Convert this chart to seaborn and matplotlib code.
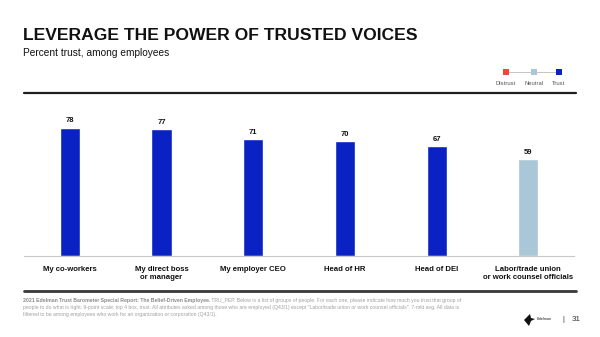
import matplotlib
matplotlib.use("Agg")
import matplotlib.pyplot as plt
from matplotlib.lines import Line2D
from matplotlib.patches import Rectangle, Polygon
import seaborn as sns
import pandas as pd

categories = ["My co-workers", "My direct boss\nor manager", "My employer CEO",
              "Head of HR", "Head of DEI", "Labor/trade union\nor work counsel officials"]
values = [78, 77, 71, 70, 67, 59]
trust_level = ["Trust", "Trust", "Trust", "Trust", "Trust", "Neutral"]
legend_labels = ["Distrust", "Neutral", "Trust"]
level_colors = {"Distrust": "#F0463A", "Neutral": "#A9C7D6", "Trust": "#0A22C4"}

title = "LEVERAGE THE POWER OF TRUSTED VOICES"
subtitle = "Percent trust, among employees"
foot_bold = "2021 Edelman Trust Barometer Special Report: The Belief-Driven Employee."
foot_line1 = (" TRU_PEP. Below is a list of groups of people. For each one, please indicate "
              "how much you trust that group of")
foot_rest = ("people to do what is right. 9-point scale; top 4 box, trust. All attributes asked among those who "
             "are employed (Q43/1) except \"Labor/trade union or work counsel officials\". 7-mkt avg. All data is\n"
             "filtered to be among employees who work for an organization or corporation (Q43/1).")

sns.set_theme(style="white")
plt.rcParams["font.family"] = ["Liberation Sans", "DejaVu Sans"]

df = pd.DataFrame({"category": categories, "value": values, "level": trust_level})
bar_colors = [level_colors[l] for l in trust_level]

fig = plt.figure(figsize=(6, 3.37), dpi=100)
ax = fig.add_axes([0.04, 0.239, 0.917, 0.485])

sns.barplot(data=df, x="category", y="value", hue="category", palette=bar_colors,
            width=0.22, legend=False, ax=ax, saturation=1)
ax.set_ylim(0, 99)
ax.set_xlim(-0.5, 5.5)
ax.set_xlabel("")
ax.set_ylabel("")
ax.set_yticks([])
for s in ["top", "left", "right"]:
    ax.spines[s].set_visible(False)
ax.spines["bottom"].set_color("#c8c8c8")
ax.spines["bottom"].set_linewidth(0.8)
ax.tick_params(axis="x", length=0, pad=7, labelsize=5.6, colors="#111111")
for lab in ax.get_xticklabels():
    lab.set_fontweight("bold")
    lab.set_linespacing(1.25)

for i, v in enumerate(values):
    ax.text(i, v + 2, str(v), ha="center", va="bottom", fontsize=5.5,
            fontweight="bold", color="#111111")

# Title & subtitle
fig.text(0.038, 0.895, title, fontsize=12.6, fontweight="bold", color="#111111", va="center")
fig.text(0.038, 0.842, subtitle, fontsize=7.3, color="#111111", va="center")

# Top rule and bottom rule
fig.add_artist(Line2D([0.04, 0.96], [1 - 93 / 337] * 2, color="#1e1e1e", lw=1.6,
                      transform=fig.transFigure))
fig.add_artist(Line2D([0.04, 0.96], [1 - 291 / 337] * 2, color="#383838", lw=2.0,
                      transform=fig.transFigure))

# Legend scale
lx = [506 / 600, 534 / 600, 559 / 600]
ly = 1 - 72 / 337
fig.add_artist(Line2D([lx[0], lx[2]], [ly, ly], color="#bbbbbb", lw=0.6,
                      transform=fig.transFigure, zorder=1))
sw, sh = 6 / 600, 6 / 337
for x, lab in zip(lx, legend_labels):
    fig.add_artist(Rectangle((x - sw / 2, ly - sh / 2), sw, sh, facecolor=level_colors[lab],
                             edgecolor="none", transform=fig.transFigure, zorder=2))
    fig.text(x, 1 - 83.5 / 337, lab, fontsize=4.2, ha="center", va="center", color="#555555")

# Footnote
fs = 3.7
fcol = "#a0a0a0"
y1 = 1 - 300.5 / 337
tb = fig.text(0.038, y1, foot_bold, fontsize=fs, color="#8a8a8a", fontweight="bold", va="center")
renderer = fig.canvas.get_renderer()
bb = tb.get_window_extent(renderer=renderer)
fig.text(bb.x1 / fig.bbox.width, y1, foot_line1, fontsize=fs, color=fcol, va="center")
fig.text(0.038, 1 - 304.5 / 337, foot_rest, fontsize=fs, color=fcol, va="top",
         linespacing=1.7)

# Logo-ish mark, separator, page number
fig.add_artist(Polygon([[524 / 600, 1 - 320 / 337], [530 / 600, 1 - 314 / 337],
                        [531 / 600, 1 - 318 / 337], [535 / 600, 1 - 319 / 337],
                        [531 / 600, 1 - 321 / 337], [529 / 600, 1 - 326 / 337]],
                       closed=True, facecolor="#111111", edgecolor="none",
                       transform=fig.transFigure))
fig.text(537 / 600, 1 - 319.5 / 337, "Edelman", fontsize=2.8, color="#222222", va="center")
fig.text(563 / 600, 1 - 319.5 / 337, "|", fontsize=5.5, color="#333333", va="center", ha="center")
fig.text(572 / 600, 1 - 319.5 / 337, "31", fontsize=5.8, color="#333333", va="center")

fig.savefig("out.png", dpi=100)
